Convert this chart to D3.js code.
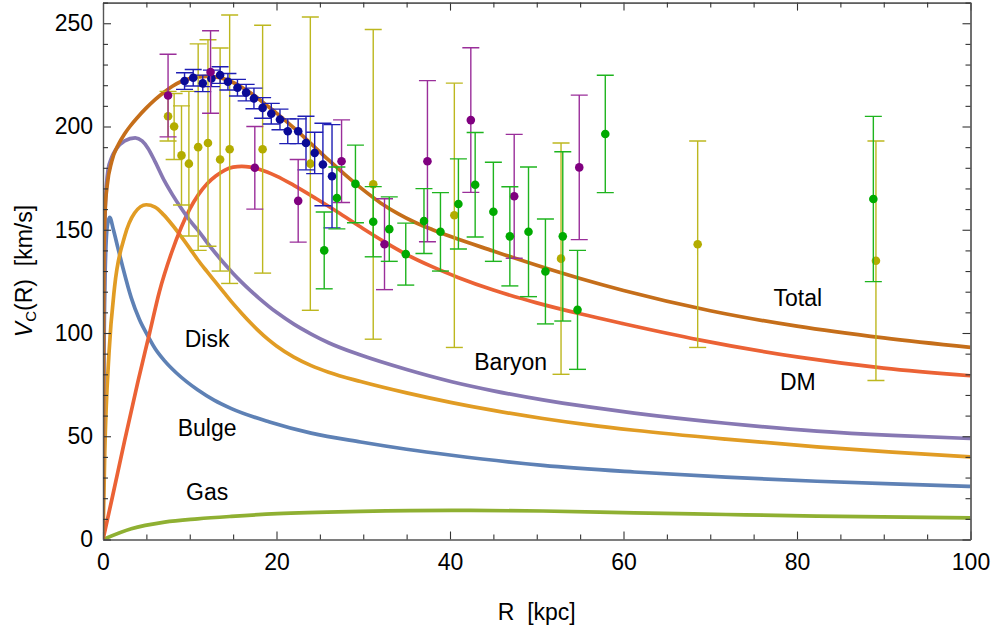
<!DOCTYPE html>
<html><head><meta charset="utf-8">
<script src="https://cdn.jsdelivr.net/npm/d3@7"></script>
<style>
body{margin:0;background:#fff;}
svg{display:block;font-family:"Liberation Sans",Arial,sans-serif;}
text{white-space:pre;}
</style></head>
<body><svg id="c" width="995" height="628"></svg>
<script>
// ---- axis ticks ----
const xMajor = [0,20,40,60,80,100];
const yMajor = [0,50,100,150,200,250];

// ---- model curves [R, V] ----
const bulge = [[0,0],[0.1,80],[0.25,130],[0.5,152],[0.77,156],[1.2,150],[1.73,141],[2.3,131.5],[3.26,117],[4.2,106.5],[5.18,98.5],[6,92.5],[7.1,86.5],[8.5,80.5],[10.9,72.5],[12.8,67.5],[14.8,63.4],[19.2,56.9],[24,51.5],[29.7,47.2],[35,43.7],[40.2,40.8],[50.7,35.9],[61.25,32.7],[71.8,30.2],[82.3,28.2],[91,26.9],[100,25.7]];
const disk = [[0,0],[0.2,41.6],[0.69,90.1],[1.34,122.5],[2.5,146.8],[3.64,158.1],[4.98,162.1],[6,161],[7,157.2],[8,152.3],[9,146.8],[10,141],[10.9,135.6],[12,129.7],[13,124.5],[14,119.3],[14.8,115.2],[16,109.5],[17,105],[18,100.8],[19,97],[20,93.7],[22,88.3],[24,84.2],[26,81],[29.7,76.5],[35,71],[40.2,66.3],[45,62.5],[50.7,58.6],[56,55.5],[61.25,52.9],[71.8,48.6],[82.3,44.9],[91,42.3],[100,40]];
const gas = [[0,0],[3.26,5.2],[7.1,8.4],[10.9,10],[14.8,11.2],[20.1,12.5],[29.7,13.6],[40.2,14.1],[50.7,13.8],[61.25,12.9],[71.8,12.1],[82.3,11.3],[100,10.5]];
const dm = [[0,0],[1,19],[2.5,48],[4,76],[5.37,100],[6.5,120],[7.87,138.5],[9,151],[10,160],[11,167],[12,172.3],[13,176],[14,178.8],[15,180.3],[16,180.7],[17,180.3],[18,179.3],[20,176],[22,171.5],[24.6,165],[27,158.7],[30,150.5],[32.3,144.5],[35,138],[38,132],[41,126.8],[45,120.8],[50,114.6],[55,109.3],[60,104.5],[68.7,96.7],[80.2,88.3],[90,83],[100,79.3]];
const baryon = [[0,0],[0.1,100],[0.25,160],[0.58,179],[1,185],[1.5,189],[2.5,193],[3.72,194.5],[4.5,193],[5.18,189.5],[6,183],[7.1,173.5],[8,167],[9,160.5],[10,154.5],[11,149.5],[12,143.8],[13,138.5],[14,133.5],[15,128.8],[16,124.5],[17,120.5],[18,116.8],[20,110],[22,104.3],[24,99.5],[26,95.3],[29.7,89.3],[35,82.3],[40.2,76.4],[45,72],[50.7,67.6],[56,64.2],[61.25,61.2],[71.8,56.3],[82.3,52.5],[91,50.4],[100,48.9]];
const total = [[0,0],[0.05,90],[0.12,140],[0.25,160],[0.5,172],[1,183],[1.8,191.5],[2.5,196.5],[3.1,200],[4,204.5],[5,209],[6,213],[7,216.5],[8,219.5],[9,221.8],[10,223.2],[11,224],[12,224.3],[13,224],[14,223],[15,221.3],[16,219],[17,216.3],[18,213.2],[19,209.8],[20,206.5],[22,199.3],[24,191.6],[26,183.8],[28,176.3],[30,169.3],[32,163],[34,157.8],[36,153.5],[38,150],[40,146.8],[45,139.7],[50,132.8],[55,126.4],[60,120.6],[70,110.8],[80,103.3],[90,97.6],[100,93]];

const curveColors = ["#5E81B5","#E19C24","#8FB032","#EB6235","#8778B3","#C56E1A"];

// ---- observational data [R, V, error] ----
const yellowData = [[7.5,205,12],[8.2,200,16],[9.05,186,24],[9.9,182,35],[10.97,190,50],[12.1,192,50],[13.5,184,54],[14.6,189,65],[18.4,189,60],[23.9,182,71],[31.15,172,75],[40.5,157,64],[52.8,136,56],[68.55,143,50],[89.1,135,58]];
const blueData = [[9.4,222,4],[10.4,223.6,4],[11.5,220.9,4],[12.5,223.3,4],[13.5,224.9,4],[14.4,221.7,4],[15.5,218.8,4],[16.5,216.4,4],[17.4,213.6,5],[18.4,209,5],[19.4,206.2,5],[20.4,203.4,5],[21.3,197.7,6],[22.5,197.7,6],[23.4,192,13],[24.4,187.2,10],[25.35,181.6,20],[26.4,175.9,25]];
const purpleData = [[7.5,215,20],[12.4,226.4,20],[17.5,180,20],[22.5,164,20],[27.5,183.2,20],[32.45,143,22],[37.4,183.2,39],[42.4,203.1,35],[47.4,166.2,30],[54.9,180.2,35]];
const greenData = [[25.5,140,18.6],[26.96,165.4,15],[29.1,172.2,18.8],[31.15,153.9,17],[33.0,150.3,15.6],[34.9,138.2,15],[37.0,154.2,15.7],[38.9,149,19],[40.97,162.5,21.8],[42.9,171.8,25.3],[45.0,158.7,24],[46.9,146.8,24],[49.05,149,31.4],[51.0,129.8,25.4],[53.0,146.8,41],[54.7,111.2,28.8],[57.9,196.4,28.4],[88.8,164.9,40]];

// ---- curve labels [text, R, V] ----
const labels = [["Total",80.1,113],["DM",80.1,72.5],["Baryon",47.0,82],["Disk",12.0,93],["Bulge",12.0,50],["Gas",12.0,19]];

const svg = d3.select("#c");
const L=103, R=970.5, T=2.6, B=539.5;
const x = d3.scaleLinear().domain([0,100]).range([L,R]);
const y = d3.scaleLinear().domain([0,260]).range([B,T]);

svg.append("defs").append("clipPath").attr("id","clip")
  .append("rect").attr("x",L).attr("y",T).attr("width",R-L).attr("height",B-T);

// curves
const line = d3.line().x(d=>x(d[0])).y(d=>y(d[1])).curve(d3.curveMonotoneX);
const curves = [bulge,disk,gas,dm,baryon,total];
const cg = svg.append("g").attr("clip-path","url(#clip)");
curves.forEach((c,i)=>{
  cg.append("path").attr("d",line(c)).attr("fill","none")
    .attr("stroke",curveColors[i]).attr("stroke-width",3.7).attr("stroke-linejoin","round");
});

// data points with error bars
function drawSet(data, barColor, dotColor){
  const g = svg.append("g").attr("clip-path","url(#clip)");
  const cw = 8.5;
  data.forEach(d=>{
    const cx = x(d[0]), y1 = y(d[1]+d[2]), y2 = y(d[1]-d[2]);
    g.append("line").attr("x1",cx).attr("x2",cx).attr("y1",y1).attr("y2",y2).attr("stroke",barColor).attr("stroke-width",1.4);
    g.append("line").attr("x1",cx-cw).attr("x2",cx+cw).attr("y1",y1).attr("y2",y1).attr("stroke",barColor).attr("stroke-width",1.4);
    g.append("line").attr("x1",cx-cw).attr("x2",cx+cw).attr("y1",y2).attr("y2",y2).attr("stroke",barColor).attr("stroke-width",1.4);
  });
  data.forEach(d=>{
    g.append("circle").attr("cx",x(d[0])).attr("cy",y(d[1])).attr("r",4.3).attr("fill",dotColor);
  });
}
drawSet(yellowData,"#BDB71E","#B3AC00");
drawSet(blueData,"#1E1EB4","#0A0A96");
drawSet(purpleData,"#9A2E9A","#800080");
drawSet(greenData,"#1EB41E","#00AA00");

// curve labels
labels.forEach(l=>{
  svg.append("text").attr("x",x(l[1])).attr("y",y(l[2])).attr("text-anchor","middle")
    .attr("font-size",23).attr("fill","#000").text(l[0]);
});

// axes / frame
const frameColor = "#555";
const xMinor = d3.range(0,101,5).filter(v=>v%20!==0);
const yMinor = d3.range(0,261,10).filter(v=>v%50!==0);
function styleAxis(g){
  g.selectAll(".domain").attr("stroke",frameColor).attr("stroke-width",1.2);
  g.selectAll(".tick line").attr("stroke","#333").attr("stroke-width",1.1);
  g.selectAll("text").attr("font-size",23).attr("fill","#000").attr("font-family","Liberation Sans, Arial, sans-serif");
}
// bottom
svg.append("g").attr("transform",`translate(0,${B})`)
  .call(d3.axisBottom(x).tickValues(xMajor).tickSize(-8).tickSizeOuter(0).tickPadding(14).tickFormat(d3.format("d"))).call(styleAxis);
svg.append("g").attr("transform",`translate(0,${B})`)
  .call(d3.axisBottom(x).tickValues(xMinor).tickSize(-5).tickSizeOuter(0).tickFormat("")).call(styleAxis);
// top
svg.append("g").attr("transform",`translate(0,${T})`)
  .call(d3.axisTop(x).tickValues(xMajor).tickSize(-8).tickSizeOuter(0).tickFormat("")).call(styleAxis);
svg.append("g").attr("transform",`translate(0,${T})`)
  .call(d3.axisTop(x).tickValues(xMinor).tickSize(-5).tickSizeOuter(0).tickFormat("")).call(styleAxis);
// left
svg.append("g").attr("transform",`translate(${L},0)`)
  .call(d3.axisLeft(y).tickValues(yMajor).tickSize(-8).tickSizeOuter(0).tickPadding(10).tickFormat(d3.format("d"))).call(styleAxis);
svg.append("g").attr("transform",`translate(${L},0)`)
  .call(d3.axisLeft(y).tickValues(yMinor).tickSize(-5).tickSizeOuter(0).tickFormat("")).call(styleAxis);
// right
svg.append("g").attr("transform",`translate(${R},0)`)
  .call(d3.axisRight(y).tickValues(yMajor).tickSize(-8).tickSizeOuter(0).tickFormat("")).call(styleAxis);
svg.append("g").attr("transform",`translate(${R},0)`)
  .call(d3.axisRight(y).tickValues(yMinor).tickSize(-5).tickSizeOuter(0).tickFormat("")).call(styleAxis);

// axis titles
svg.append("text").attr("x",(L+R)/2).attr("y",620).attr("text-anchor","middle")
  .attr("font-size",23).text("R  [kpc]");
const yt = svg.append("text").attr("transform",`translate(32,${(T+B)/2}) rotate(-90)`)
  .attr("text-anchor","middle").attr("font-size",23);
yt.append("tspan").attr("font-style","italic").text("V");
yt.append("tspan").attr("font-size",15).attr("dy",4).text("C");
yt.append("tspan").attr("dy",-4).text("(R)  [km/s]");
</script></body></html>
